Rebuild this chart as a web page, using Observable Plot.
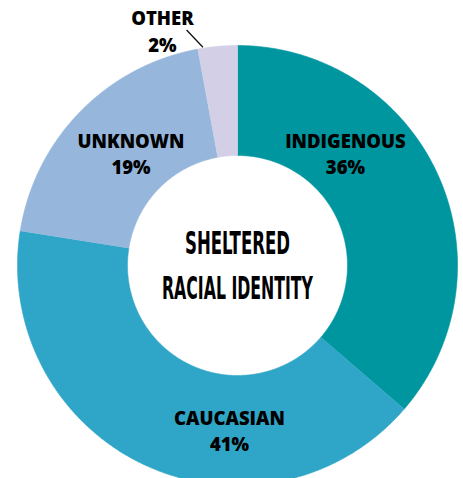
<!DOCTYPE html>
<html><head><meta charset="utf-8">
<script src="https://cdn.jsdelivr.net/npm/d3@7"></script>
<script src="https://cdn.jsdelivr.net/npm/@observablehq/plot@0.6"></script>
<style>html,body{margin:0;padding:0;background:#fff} svg{display:block}</style>
</head><body><div id="chart"></div>
<script>
// ---- data ----
const categories = ["INDIGENOUS", "CAUCASIAN", "UNKNOWN", "OTHER"];
const values = [36.3, 41.2, 19.6, 2.9];
const percentLabels = ["36%", "41%", "19%", "2%"];
const centerTitle = ["SHELTERED", "RACIAL IDENTITY"];

// ---- styles / layout ----
const colors = ["#00969F", "#2FA6C7", "#96B7DB", "#D2CFE6"];
const W = 463, H = 478;
const layout = {
  cx: 237, cy: 265, outer: 220, inner: 110,
  labelAngle: [43.8, 182.8, 316.6, 342.3],
  labelRadius: [156, 164, 155, 247],
  leader: {from: [221, 351], to: [241, 347.8]},
  centerOffset: [21.5, -23.5],
  centerLength: [105, 151]
};
const rad = a => a * Math.PI / 180;
const polar = (r, a) => ({x: r * Math.sin(rad(a)), y: r * Math.cos(rad(a))});

// slice polygons
const total = d3.sum(values);
let acc = 0;
const slicePts = [];
categories.forEach((c, i) => {
  const a0 = acc / total * 360, a1 = (acc + values[i]) / total * 360;
  acc += values[i];
  const n = Math.max(2, Math.ceil((a1 - a0) / 0.5));
  for (let k = 0; k <= n; k++) slicePts.push({cat: c, ...polar(layout.outer, a0 + (a1 - a0) * k / n)});
  for (let k = n; k >= 0; k--) slicePts.push({cat: c, ...polar(layout.inner, a0 + (a1 - a0) * k / n)});
});

const labels = categories.map((c, i) => ({
  text: c + "\n" + percentLabels[i],
  ...polar(layout.labelRadius[i], layout.labelAngle[i])
}));
const leader = [{
  x1: polar(layout.leader.from[0], layout.leader.from[1]).x,
  y1: polar(layout.leader.from[0], layout.leader.from[1]).y,
  x2: polar(layout.leader.to[0], layout.leader.to[1]).x,
  y2: polar(layout.leader.to[0], layout.leader.to[1]).y
}];
const centerRows = centerTitle.map((t, i) => ({text: t, x: 0, y: layout.centerOffset[i]}));

const svg = Plot.plot({
  width: W, height: H,
  margin: 0,
  style: {background: "#fff"},
  x: {domain: [-layout.cx, W - layout.cx], axis: null},
  y: {domain: [layout.cy - H, layout.cy], axis: null},
  color: {domain: categories, range: colors},
  marks: [
    Plot.line(slicePts, {x: "x", y: "y", z: "cat", fill: "cat", stroke: "cat", strokeWidth: 0.6, curve: "linear"}),
    Plot.link(leader, {x1: "x1", y1: "y1", x2: "x2", y2: "y2", stroke: "#111", strokeWidth: 1.3}),
    Plot.text(labels, {x: "x", y: "y", text: "text", fill: "#000", fontSize: 18.5, fontWeight: 800,
      fontFamily: "'Open Sans', 'Noto Sans', sans-serif", lineHeight: 1.42, textAnchor: "middle"}),
    Plot.text(centerRows, {x: "x", y: "y", text: "text", fill: "#000", fontSize: 32, fontWeight: "bold",
      fontFamily: "'Liberation Sans Narrow', 'DejaVu Sans Condensed', sans-serif", textAnchor: "middle"})
  ]
});
d3.select(svg).selectAll("text").each(function () {
  const i = centerTitle.indexOf(this.textContent);
  if (i >= 0) d3.select(this).attr("textLength", layout.centerLength[i]).attr("lengthAdjust", "spacingAndGlyphs");
});
document.getElementById("chart").appendChild(svg);
</script>
</body></html>
